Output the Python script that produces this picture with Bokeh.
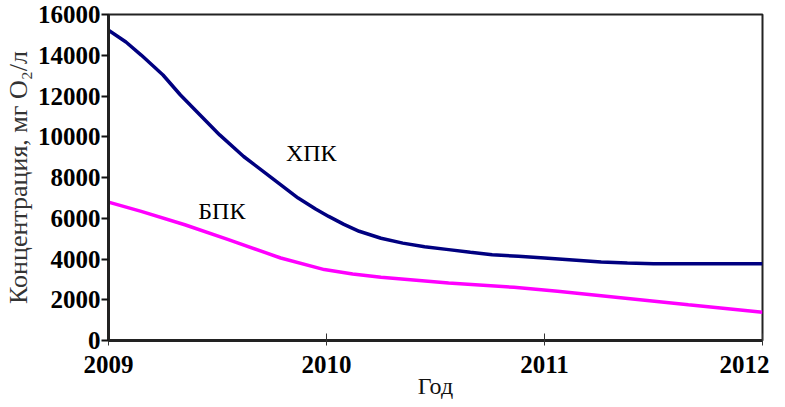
from bokeh.plotting import figure
from bokeh.models import FixedTicker, Range1d, ColumnDataSource
from bokeh.core.properties import value
from bokeh.embed import file_html
from bokeh.resources import INLINE

# ХПК (COD) series
cod_years = [2009.0, 2009.08, 2009.15, 2009.25, 2009.33, 2009.42, 2009.51, 2009.62, 2009.75,
             2009.87, 2009.95, 2010.01, 2010.08, 2010.15, 2010.25, 2010.35, 2010.45, 2010.56,
             2010.66, 2010.76, 2010.88, 2011.0, 2011.13, 2011.26, 2011.38, 2011.5, 2012.0]
cod_values = [15230, 14650, 14010, 13030, 12050, 11070, 10090, 9030, 7970,
              6990, 6450, 6090, 5700, 5360, 5020, 4780, 4600, 4460,
              4330, 4210, 4130, 4050, 3950, 3850, 3800, 3770, 3770]

# БПК (BOD) series
bod_years = [2009.0, 2009.15, 2009.35, 2009.55, 2009.79, 2009.99, 2010.12, 2010.25, 2010.56,
             2010.86, 2011.06, 2011.36, 2011.66, 2012.0]
bod_values = [6790, 6340, 5680, 4950, 4050, 3480, 3260, 3100, 2820, 2610, 2420, 2090, 1760, 1390]

x_ticks = [2009, 2010, 2011, 2012]
y_ticks = [0, 2000, 4000, 6000, 8000, 10000, 12000, 14000, 16000]

label_text = ["ХПК", "БПК"]
label_x = [2009.93, 2009.52]
label_y = [9190, 6340]

FONT = "Liberation Serif"

p = figure(width=769, height=401, output_backend="svg", toolbar_location=None,
           x_range=Range1d(2009, 2012), y_range=Range1d(0, 16000),
           min_border_left=103, min_border_right=7, min_border_top=14, min_border_bottom=59)

p.line(cod_years, cod_values, line_color="#000080", line_width=3.5)
p.line(bod_years, bod_values, line_color="#FF00FF", line_width=3.5)

src = ColumnDataSource(dict(x=label_x, y=label_y, t=label_text))
p.text(x="x", y="y", text="t", source=src, text_font=value(FONT), text_font_size="24px",
       text_align="center", text_baseline="middle", text_color="#000000")

p.xgrid.visible = False
p.ygrid.visible = False
p.outline_line_color = "#222222"
p.outline_line_width = 2
p.background_fill_color = "white"
p.border_fill_color = "white"

xa = p.xaxis[0]
xa.ticker = FixedTicker(ticks=x_ticks)
xa.minor_tick_line_color = None
xa.major_tick_in = 7
xa.major_tick_out = 5
xa.major_tick_line_color = "#333333"
xa.axis_line_width = 3
xa.axis_line_color = "#222222"
xa.major_label_text_font = FONT
xa.major_label_text_font_size = "25px"
xa.major_label_text_font_style = "bold"
xa.major_label_text_color = "black"
xa.major_label_standoff = 10
xa.axis_label = "Год"
xa.axis_label_text_font = FONT
xa.axis_label_text_font_size = "24px"
xa.axis_label_text_font_style = "normal"
xa.axis_label_text_color = "#111111"
xa.axis_label_standoff = -3

ya = p.yaxis[0]
ya.ticker = FixedTicker(ticks=y_ticks)
ya.minor_tick_line_color = None
ya.major_tick_in = 0
ya.major_tick_out = 7
ya.major_tick_line_width = 2
ya.major_tick_line_color = "#111111"
ya.axis_line_width = 3
ya.axis_line_color = "#222222"
ya.major_label_text_font = FONT
ya.major_label_text_font_size = "25px"
ya.major_label_text_font_style = "bold"
ya.major_label_text_color = "black"
ya.major_label_standoff = 1
ya.axis_label = "Концентрация, мг O₂/л"
ya.axis_label_text_font = FONT
ya.axis_label_text_font_size = "26px"
ya.axis_label_text_font_style = "normal"
ya.axis_label_text_color = "#333333"
ya.axis_label_standoff = 2

open("out.html", "w").write(file_html(p, INLINE))
